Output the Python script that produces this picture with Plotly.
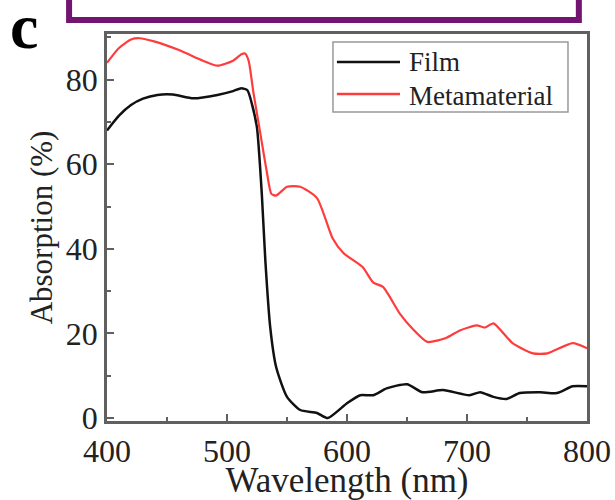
import plotly.graph_objects as go

wl_film = [400, 410, 420, 430, 442, 455, 472, 492, 505, 512, 517, 521, 525, 529, 532, 536, 541, 550, 561, 575, 584,
           600, 611, 622, 633, 650, 663, 680, 702, 711, 722, 733, 744, 761, 775, 788, 800]
film = [68, 71.5, 74, 75.5, 76.4, 76.5, 75.6, 76.4, 77.3, 78, 77.5, 74, 68.6, 53, 37, 21.5, 12, 5, 1.9, 1.2, 0,
        3.5, 5.4, 5.4, 7, 8, 6.1, 6.6, 5.4, 6.1, 5, 4.5, 5.9, 6.1, 5.9, 7.5, 7.5]

wl_meta = [400, 410, 420, 427, 440, 460, 480, 492, 505, 512, 515, 518, 522, 527, 533, 537, 541, 550, 561, 575, 588,
           597, 613, 622, 630, 644, 655, 667, 683, 694, 708, 715, 722, 738, 755, 767, 788, 800]
meta = [84, 87.5, 89.5, 89.8, 89, 87, 84.5, 83.3, 84.5, 86, 86.2, 84.5, 77, 68.6, 58.5, 53, 52.6, 54.7, 54.7, 52, 42.5,
        39, 35.7, 32, 31, 24.7, 21, 18, 19, 20.7, 21.9, 21.4, 22.4, 17.7, 15.3, 15.3, 17.7, 16.5]

series_names = ["Film", "Metamaterial"]
series_colors = ["#111111", "#ff3c3c"]

x_ticks = [400, 500, 600, 700, 800]
y_ticks = [0, 20, 40, 60, 80]

FONT = "Liberation Serif"

fig = go.Figure()
fig.add_trace(go.Scatter(x=wl_film, y=film, mode="lines", name=series_names[0], showlegend=False,
                         line=dict(color=series_colors[0], width=2.5, shape="spline", smoothing=0.6)))
fig.add_trace(go.Scatter(x=wl_meta, y=meta, mode="lines", name=series_names[1], showlegend=False,
                         line=dict(color=series_colors[1], width=2.2, shape="spline", smoothing=0.6)))

axis_common = dict(showline=True, linecolor="#606060", linewidth=2.5, mirror=True,
                   ticks="inside", ticklen=7, tickwidth=1.5, tickcolor="#606060",
                   showgrid=False, zeroline=False, automargin=False,
                   tickfont=dict(family=FONT, size=32, color="#222222"))

fig.update_xaxes(range=[400, 800], tickvals=x_ticks, ticktext=[str(v) for v in x_ticks],
                 minor=dict(ticks="inside", ticklen=4, tickcolor="#606060", dtick=50, tick0=400),
                 title=dict(text="Wavelength (nm)", font=dict(family=FONT, size=35, color="#222222"), standoff=2),
                 **axis_common)
fig.update_yaxes(range=[-0.7, 90.8], tickvals=y_ticks, ticktext=[str(v) for v in y_ticks],
                 minor=dict(ticks="inside", ticklen=4, tickcolor="#606060", dtick=10, tick0=0),
                 title=dict(text="Absorption (%)", font=dict(family=FONT, size=31, color="#222222"), standoff=4),
                 **axis_common)

# manual legend (box, sample lines, labels) in paper coordinates
legend_shapes = [dict(type="rect", xref="paper", yref="paper", x0=0.4708, x1=0.9604, y0=0.7984, y1=0.9793,
                      line=dict(color="#999999", width=1.5), fillcolor="white", layer="above")]
legend_rows_y = [0.9276, 0.845]
legend_text_y = [0.9276, 0.8398]
legend_annots = []
for name, col, ly, ty in zip(series_names, series_colors, legend_rows_y, legend_text_y):
    legend_shapes.append(dict(type="line", xref="paper", yref="paper", x0=0.479, x1=0.6104, y0=ly, y1=ly,
                              line=dict(color=col, width=2.5), layer="above"))
    legend_annots.append(dict(text=name, xref="paper", yref="paper", x=0.625, y=ty,
                              xanchor="left", yanchor="middle", showarrow=False,
                              font=dict(family=FONT, size=27, color="#222222")))

fig.update_layout(
    width=615, height=500,
    margin=dict(l=107, r=28, t=34, b=79),
    paper_bgcolor="white", plot_bgcolor="white",
    showlegend=False,
    shapes=[dict(type="rect", xref="paper", yref="paper", x0=-0.079, x1=0.983, y0=1.036, y1=1.2,
                 line=dict(color="#731470", width=6), fillcolor="rgba(0,0,0,0)")] + legend_shapes,
    annotations=[dict(text="<b>c</b>", xref="paper", yref="paper", x=-0.173, y=1.02,
                      xanchor="center", yanchor="middle", showarrow=False,
                      font=dict(family=FONT, size=64, color="black"))] + legend_annots,
)

fig.write_html("out.html", config={"displayModeBar": False},
               post_script="document.body.style.margin='0';document.body.style.overflow='hidden';")
